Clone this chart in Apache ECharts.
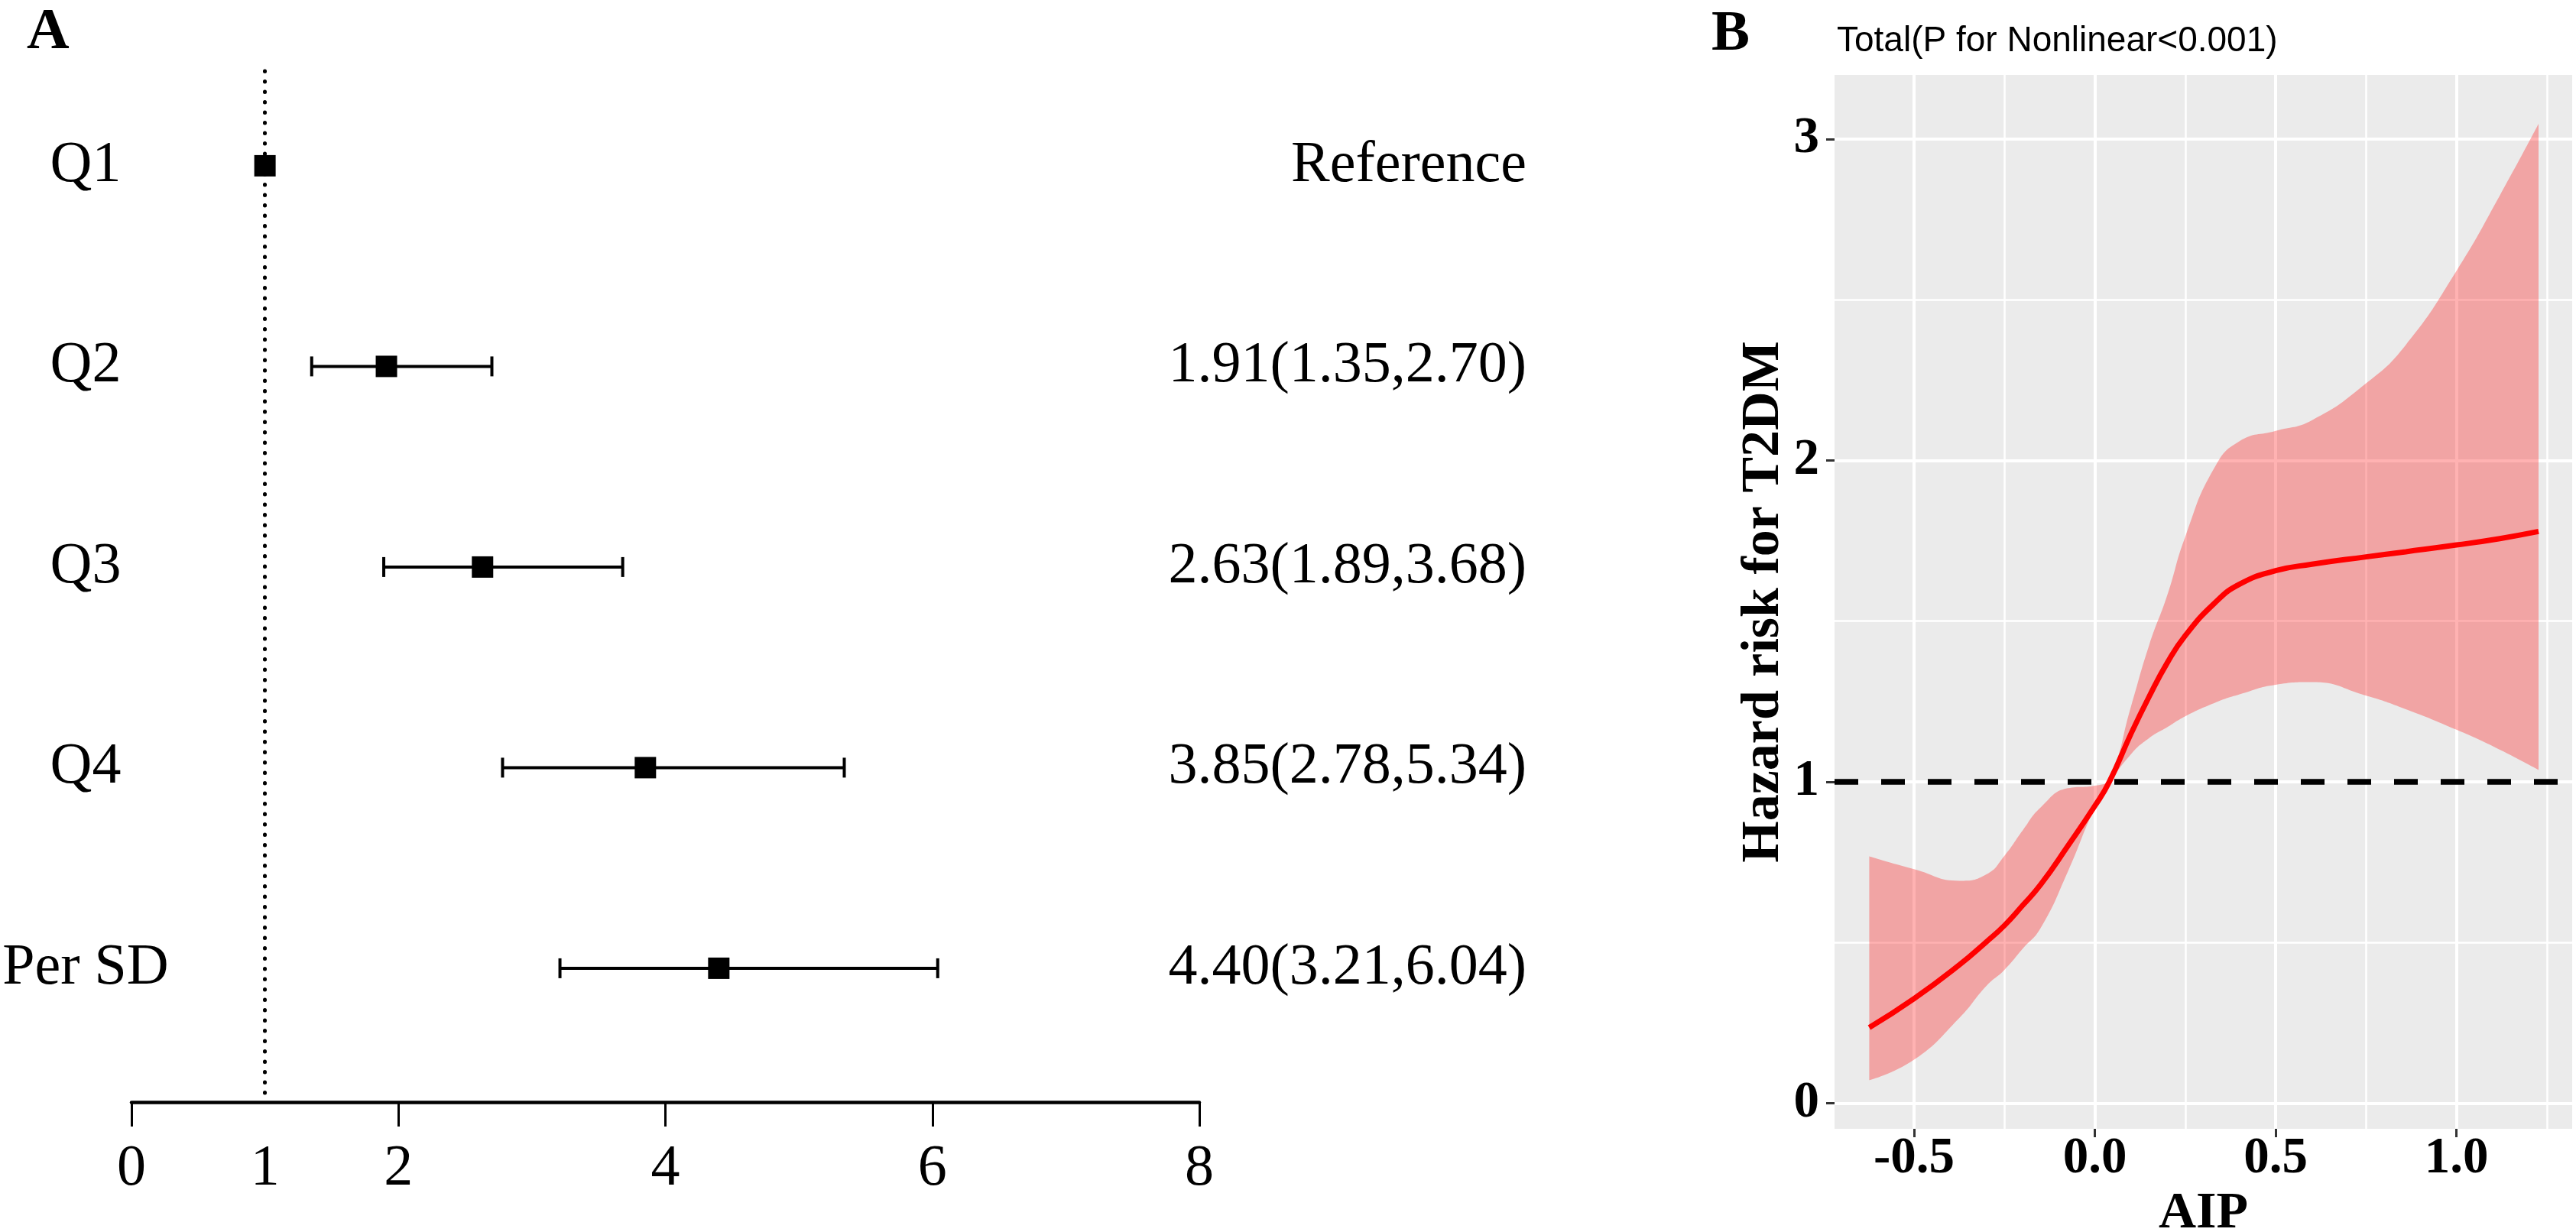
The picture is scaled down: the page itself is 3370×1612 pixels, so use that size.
<!DOCTYPE html>
<html>
  <head>
    <meta charset="utf-8" />
    <script src="https://cdn.jsdelivr.net/npm/echarts@6/dist/echarts.min.js"></script>
    <style>
      html, body { margin: 0; padding: 0; background: #fff; }
    </style>
  </head>
  <body>
    <div id="main" style="width: 3370px;height:1612px;"></div>
    <script type="text/javascript">
      var myChart = echarts.init(document.getElementById('main'));

      var SERIF = "'Times New Roman', 'Liberation Serif', serif";
      var SANS = "Arial, 'Liberation Sans', sans-serif";

      // A: forest plot
      var rowNames = ['Q1', 'Q2', 'Q3', 'Q4', 'Per SD'];
      var hr = [1.00, 1.91, 2.63, 3.85, 4.40];
      var ciLow = [null, 1.35, 1.89, 2.78, 3.21];
      var ciHigh = [null, 2.70, 3.68, 5.34, 6.04];
      var forestTicks = [0, 2, 4, 6, 8];
      var forestLabels = [0, 1, 2, 4, 6, 8];

      // B: restricted cubic spline
      var aip = [-0.624, -0.5, -0.375, -0.3, -0.25, -0.2, -0.15, -0.075, 0, 0.04, 0.1, 0.15, 0.2, 0.25, 0.33, 0.4, 0.5, 0.6, 0.75, 0.86, 1.0, 1.12, 1.227];
      var hrFit = [0.235, 0.325, 0.43, 0.502, 0.553, 0.615, 0.68, 0.80, 0.925, 1.0, 1.15, 1.265, 1.37, 1.455, 1.555, 1.615, 1.657, 1.677, 1.70, 1.716, 1.737, 1.757, 1.779];
      var hrUpper = [0.768, 0.728, 0.692, 0.712, 0.77, 0.848, 0.92, 0.98, 0.988, 1.01, 1.235, 1.425, 1.58, 1.763, 1.976, 2.06, 2.092, 2.125, 2.24, 2.36, 2.59, 2.825, 3.048];
      var hrLower = [0.071, 0.135, 0.265, 0.365, 0.415, 0.48, 0.545, 0.72, 0.92, 0.995, 1.086, 1.136, 1.17, 1.204, 1.245, 1.272, 1.302, 1.31, 1.268, 1.226, 1.162, 1.10, 1.037];
      var aipTicks = [-0.5, 0, 0.5, 1.0];
      var aipMinor = [-0.25, 0.25, 0.75, 1.25];
      var hrTicks = [0, 1, 2, 3];
      var hrMinor = [0.5, 1.5, 2.5];

      var rows = rowNames.map(function (n, i) { return i + 1; });
      var estText = hr.map(function (v, i) {
        if (ciLow[i] == null) return 'Reference';
        return v.toFixed(2) + '(' + ciLow[i].toFixed(2) + ',' + ciHigh[i].toFixed(2) + ')';
      });

      var pointData = hr.map(function (v, i) { return [v, rows[i]]; });
      var barData = [];
      for (var i = 0; i < hr.length; i++) {
        if (ciLow[i] != null) barData.push([ciLow[i], ciHigh[i], rows[i]]);
      }
      var fitData = aip.map(function (x, i) { return [x, hrFit[i]]; });
      // value first so that the stack adds on the y dimension
      var lowData = aip.map(function (x, i) { return [hrLower[i], x]; });
      var bandData = aip.map(function (x, i) { return [hrUpper[i] - hrLower[i], x]; });

      var rowMin = 0.528, rowMax = 5.667;

      function rowLabel(v) {
        var k = rows.indexOf(Math.round(v));
        return k < 0 ? '' : rowNames[k];
      }
      function estLabel(v) {
        var k = rows.indexOf(Math.round(v));
        return k < 0 ? '' : estText[k];
      }

      option = {
        backgroundColor: '#fff',
        animation: false,
        title: [
          { text: 'A', left: 30, top: 0, textStyle: { fontFamily: SERIF, fontWeight: 'bold', fontSize: 77, color: '#000' } },
          { text: 'B', left: 2234, top: 3, textStyle: { fontFamily: SERIF, fontWeight: 'bold', fontSize: 75, color: '#000' } },
          { text: 'Total(P for Nonlinear<0.001)', left: 2398, top: 26, textStyle: { fontFamily: SANS, fontWeight: 'normal', fontSize: 46, color: '#000' } }
        ],
        grid: [
          { left: 172, right: 1801, top: 93, bottom: 170, outerBoundsMode: 'none' },
          { left: 2400, right: 5, top: 98, bottom: 135, backgroundColor: '#EBEBEB', show: true, borderWidth: 0, outerBoundsMode: 'none' }
        ],
        xAxis: [
          {
            gridIndex: 0, type: 'value', min: 0, max: 8,
            axisLine: { show: true, onZero: false, lineStyle: { color: '#000', width: 4.5 } },
            axisTick: { show: true, customValues: forestTicks, length: 32, lineStyle: { color: '#000', width: 3 } },
            axisLabel: { customValues: forestLabels, margin: 50, fontFamily: SERIF, fontSize: 76, color: '#000' },
            splitLine: { show: false }
          },
          {
            gridIndex: 1, type: 'value', min: -0.72, max: 1.32,
            name: 'AIP', nameLocation: 'middle', nameGap: 68,
            nameTextStyle: { fontFamily: SERIF, fontWeight: 'bold', fontSize: 68, color: '#000' },
            axisLine: { show: false, onZero: false },
            axisTick: { show: true, customValues: aipTicks, length: 11, lineStyle: { color: '#333', width: 3 } },
            axisLabel: {
              customValues: aipTicks, margin: 6, fontFamily: SERIF, fontWeight: 'bold', fontSize: 67, color: '#000',
              formatter: function (v) { return v.toFixed(1); }
            },
            splitLine: { show: true, lineStyle: { color: '#fff', width: 4 } }
          },
          {
            gridIndex: 1, type: 'value', min: -0.72, max: 1.32,
            axisLine: { show: false }, axisLabel: { show: false },
            axisTick: { show: false, customValues: aipMinor },
            splitLine: { show: true, lineStyle: { color: '#fff', width: 2.5 } }
          }
        ],
        yAxis: [
          {
            gridIndex: 0, type: 'value', inverse: true, min: rowMin, max: rowMax,
            axisLine: { show: false }, axisTick: { show: false }, splitLine: { show: false },
            axisLabel: { customValues: rows, formatter: rowLabel, align: 'center', margin: 60, fontFamily: SERIF, fontSize: 76, color: '#000' }
          },
          {
            gridIndex: 0, type: 'value', inverse: true, min: rowMin, max: rowMax, position: 'right',
            axisLine: { show: false }, axisTick: { show: false }, splitLine: { show: false },
            axisLabel: { customValues: rows, formatter: estLabel, align: 'right', margin: 428, fontFamily: SERIF, fontSize: 76, color: '#000' }
          },
          {
            gridIndex: 1, type: 'value', min: -0.08, max: 3.2,
            name: 'Hazard risk for T2DM', nameLocation: 'middle', nameGap: 56, nameRotate: 90,
            nameTextStyle: { fontFamily: SERIF, fontWeight: 'bold', fontSize: 70, color: '#000' },
            axisLine: { show: false, onZero: false },
            axisTick: { show: true, customValues: hrTicks, length: 11, lineStyle: { color: '#333', width: 3 } },
            axisLabel: { customValues: hrTicks, margin: 20, fontFamily: SERIF, fontWeight: 'bold', fontSize: 67, color: '#000' },
            splitLine: { show: true, lineStyle: { color: '#fff', width: 4 } }
          },
          {
            gridIndex: 1, type: 'value', min: -0.08, max: 3.2,
            axisLine: { show: false }, axisLabel: { show: false },
            axisTick: { show: false, customValues: hrMinor },
            splitLine: { show: true, lineStyle: { color: '#fff', width: 2.5 } }
          }
        ],
        series: [
          {
            name: 'CI',
            type: 'custom',
            xAxisIndex: 0, yAxisIndex: 0,
            data: barData,
            encode: { x: [0, 1], y: 2 },
            renderItem: function (params, api) {
              var y = api.value(2);
              var p1 = api.coord([api.value(0), y]);
              var p2 = api.coord([api.value(1), y]);
              var h = 13;
              var st = { stroke: '#000', lineWidth: 4 };
              return {
                type: 'group',
                children: [
                  { type: 'line', shape: { x1: p1[0], y1: p1[1], x2: p2[0], y2: p2[1] }, style: st },
                  { type: 'line', shape: { x1: p1[0], y1: p1[1] - h, x2: p1[0], y2: p1[1] + h }, style: st },
                  { type: 'line', shape: { x1: p2[0], y1: p2[1] - h, x2: p2[0], y2: p2[1] + h }, style: st }
                ]
              };
            }
          },
          {
            name: 'HR',
            type: 'scatter',
            xAxisIndex: 0, yAxisIndex: 0,
            data: pointData,
            symbol: 'rect',
            symbolSize: 28,
            itemStyle: { color: '#000', opacity: 1 },
            z: 4,
            markLine: {
              silent: true, symbol: 'none', label: { show: false },
              lineStyle: { color: '#000', width: 5, type: [0.5, 13], cap: 'round', opacity: 1 },
              data: [[{ coord: [1, rowMin] }, { coord: [1, 5.625] }]]
            }
          },
          {
            name: 'lower',
            type: 'line',
            xAxisIndex: 1, yAxisIndex: 2,
            stack: 'ci',
            data: lowData,
            encode: { x: 1, y: 0 },
            smooth: 0.5,
            symbol: 'none',
            lineStyle: { opacity: 0 },
            markLine: {
              silent: true, symbol: 'none', label: { show: false },
              lineStyle: { color: '#000', width: 7.5, type: [31, 30], opacity: 1 },
              data: [{ yAxis: 1 }]
            }
          },
          {
            name: 'band',
            type: 'line',
            xAxisIndex: 1, yAxisIndex: 2,
            stack: 'ci',
            data: bandData,
            encode: { x: 1, y: 0 },
            smooth: 0.5,
            symbol: 'none',
            lineStyle: { opacity: 0 },
            areaStyle: { color: 'rgba(255,0,0,0.3)', opacity: 1 }
          },
          {
            name: 'fit',
            type: 'line',
            xAxisIndex: 1, yAxisIndex: 2,
            data: fitData,
            smooth: 0.5,
            symbol: 'none',
            z: 6,
            lineStyle: { color: '#FF0000', width: 7 }
          }
        ]
      };

      myChart.setOption(option);
    </script>
  </body>
</html>
